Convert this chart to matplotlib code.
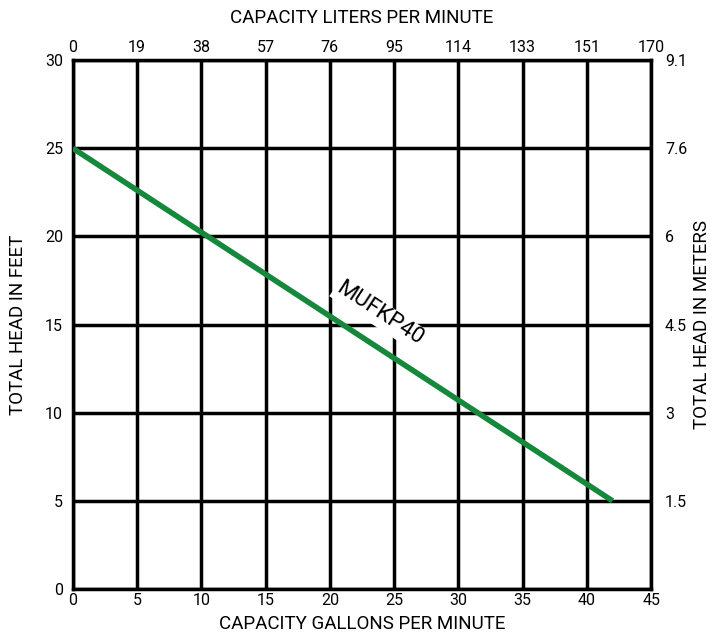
import matplotlib.pyplot as plt
import numpy as np

plt.rcParams['font.family'] = ['Roboto', 'DejaVu Sans']

# data
gpm_ticks = [0, 5, 10, 15, 20, 25, 30, 35, 40, 45]
lpm_labels = ['0', '19', '38', '57', '76', '95', '114', '133', '151', '170']
feet_ticks = [0, 5, 10, 15, 20, 25, 30]
meter_labels = ['', '1.5', '3', '4.5', '6', '7.6', '9.1']

curve_gpm = [0, 42]
curve_feet = [25, 5]
curve_name = 'MUFKP40'

fig = plt.figure(figsize=(7.21, 6.38), dpi=100)
ax = fig.add_axes([0.101, 0.0768, 0.802, 0.829])

ax.set_xlim(0, 45)
ax.set_ylim(0, 30)
ax.set_xticks(gpm_ticks)
ax.set_yticks(feet_ticks)
ax.grid(True, color='black', linewidth=2.5)
ax.set_axisbelow(True)
for s in ax.spines.values():
    s.set_linewidth(2.5)
    s.set_color('black')
ax.tick_params(length=0, labelsize=11.5, pad=3)
ax.tick_params(axis='y', pad=7)

ax.plot(curve_gpm, curve_feet, color='#16883c', linewidth=4, solid_capstyle='butt', zorder=3)

# curve label, rotated along the line
p1 = ax.transData.transform((curve_gpm[0], curve_feet[0]))
p2 = ax.transData.transform((curve_gpm[1], curve_feet[1]))
ang = np.degrees(np.arctan2(p2[1] - p1[1], p2[0] - p1[0]))
ax.text(23.85, 15.6, curve_name, rotation=ang, rotation_mode='anchor',
        ha='center', va='center', fontsize=16, zorder=4,
        bbox=dict(facecolor='white', edgecolor='none', pad=1.5))

ax.set_xlabel('CAPACITY GALLONS PER MINUTE', fontsize=13.5, labelpad=5)
ax.set_ylabel('TOTAL HEAD IN FEET', fontsize=13.5, labelpad=13)

top = ax.secondary_xaxis('top')
top.set_xticks(gpm_ticks)
top.set_xticklabels(lpm_labels)
top.tick_params(length=0, labelsize=11.5, pad=4)
top.set_xlabel('CAPACITY LITERS PER MINUTE', fontsize=13.5, labelpad=12)

right = ax.secondary_yaxis('right')
right.set_yticks(feet_ticks)
right.set_yticklabels(meter_labels)
right.tick_params(length=0, labelsize=11.5, pad=10)
right.set_ylabel('TOTAL HEAD IN METERS', fontsize=13.5, labelpad=4)

fig.savefig('out.png', dpi=100)
